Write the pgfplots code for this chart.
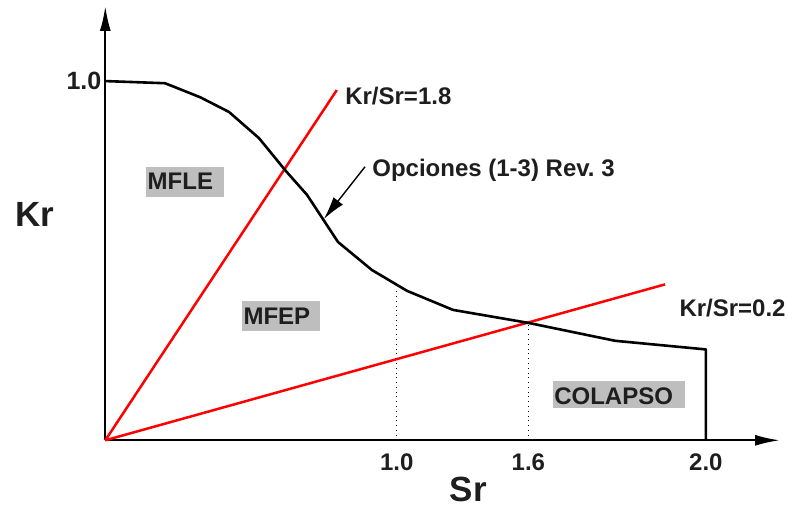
\documentclass[border=0pt]{standalone}
\usepackage{pgfplots}
\pgfplotsset{compat=1.18}
\usetikzlibrary{arrows.meta}
\usepackage{fontspec}
\setmainfont{Liberation Sans}
\frenchspacing
\definecolor{txt}{HTML}{1E1E1E}
\definecolor{boxgray}{HTML}{BEBEBE}
\newcommand{\lbl}{\fontsize{12bp}{14bp}\selectfont\bfseries}
\begin{document}
\begin{tikzpicture}
\useasboundingbox (-52.65bp,-32.85bp) rectangle (341.35bp,220.15bp);
\begin{axis}[
  at={(0,0)}, anchor=south west,
  scale only axis, width=337.35bp, height=217.15bp,
  xmin=0, xmax=2.247, ymin=0, ymax=1.209,
  axis lines=left,
  axis line style={line width=1.1bp, -{Latex[length=12.5bp,width=5.5bp]}},
  xtick={0.9705,1.409,2.0}, xticklabels={\textbf{1.0},\textbf{1.6},\textbf{2.0}},
  ytick={1.0}, yticklabels={\textbf{1.0}},
  major tick length=0pt, tick style={draw=none},
  /pgf/number format/assume math mode=true,
  ticklabel style={font=\lbl, text=txt},
  xticklabel style={anchor=base, yshift=-14.85bp},
  yticklabel style={anchor=east, xshift=1.5bp, font=\fontsize{12.5bp}{14bp}\selectfont\bfseries},
  clip=false,
]
% gray boxes
\fill[boxgray] (axis cs:0.136,0.677) rectangle (axis cs:0.396,0.760);
\fill[boxgray] (axis cs:0.456,0.304) rectangle (axis cs:0.715,0.388);
\fill[boxgray] (axis cs:1.491,0.090) rectangle (axis cs:1.931,0.165);
% dotted guides
\addplot[black, line width=0.4bp, dotted] coordinates {(0.9705,0) (0.9705,0.42)};
\addplot[black, line width=0.4bp, dotted] coordinates {(1.409,0) (1.409,0.327)};
% red lines
\addplot[red, line width=1.25bp] coordinates {(0,0) (0.771,0.975)};
\addplot[red, line width=1.25bp] coordinates {(0,0) (1.864,0.434)};
% curve
\addplot[black, line width=1.3bp, line join=round] coordinates {
 (0,1.0) (0.199,0.994) (0.316,0.955) (0.412,0.914) (0.512,0.841)
 (0.599,0.752) (0.672,0.683) (0.775,0.552) (0.888,0.474) (1.005,0.416)
 (1.158,0.363) (1.408,0.327) (1.698,0.277) (2.0,0.253) (2.0,0)};
% annotation arrow
\draw[black, line width=0.7bp, -{Latex[length=11.5bp,width=6bp]}] (axis cs:0.865,0.7615) -- (axis cs:0.728,0.616);
% labels
\node[anchor=base west, inner sep=0pt, text=txt, font=\lbl] at (axis cs:0.798,0.9357) {Kr/Sr=1.8};
\node[anchor=base west, inner sep=0pt, text=txt, font=\lbl] at (axis cs:0.888,0.733) {Opciones (1-3) Rev.\ 3};
\node[anchor=base west, inner sep=0pt, text=txt, font=\lbl] at (axis cs:1.911,0.346) {Kr/Sr=0.2};
\node[anchor=base west, inner sep=0pt, text=txt, font=\lbl] at (axis cs:0.14,0.697) {MFLE};
\node[anchor=base west, inner sep=0pt, text=txt, font=\lbl] at (axis cs:0.459,0.321) {MFEP};
\node[anchor=base west, inner sep=0pt, text=txt, font=\lbl] at (axis cs:1.494,0.101) {COLAPSO};
\node[anchor=base west, inner sep=0pt, text=txt, font=\fontsize{17.5bp}{20bp}\selectfont\bfseries] at (axis cs:-0.3007,0.5964) {Kr};
\node[anchor=base west, inner sep=0pt, text=txt, font=\fontsize{17.5bp}{20bp}\selectfont\bfseries] at (axis cs:1.1457,-0.169) {Sr};
\end{axis}
\end{tikzpicture}
\end{document}
